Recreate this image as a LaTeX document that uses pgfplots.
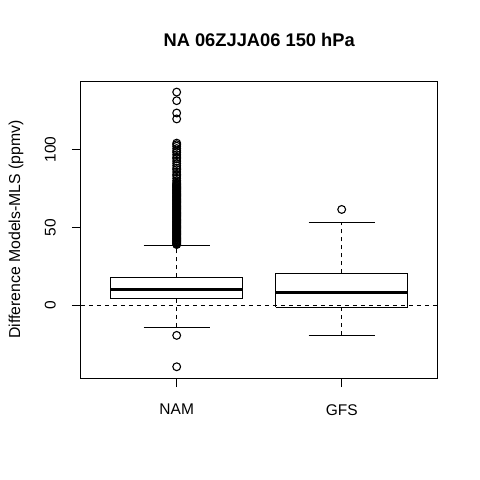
\documentclass[border=0pt]{standalone}
\usepackage{fontspec}
\setmainfont{Liberation Sans}
\usepackage{pgfplots}
\pgfplotsset{compat=1.18}
\begin{document}
\begin{tikzpicture}
\useasboundingbox (-81pt,-102pt) rectangle (399pt,378pt);
\begin{axis}[
  width=356.4pt, height=297pt, scale only axis,
  xmin=0.42, xmax=2.58, ymin=-46.5, ymax=143.8,
  axis line style={black, line width=1pt},
  tick pos=left, tick align=outside, major tick length=9pt,
  tick style={black, line width=1pt},
  xtick={1,2}, xticklabels={NAM,GFS},
  ytick={0,50,100},
  /pgf/number format/assume math mode=true,
  ticklabel style={font=\fontsize{15.5}{18}\selectfont},
  xticklabel style={anchor=north, inner sep=0pt},
  xticklabel shift=17pt,
  yticklabel style={rotate=90, anchor=south, inner sep=0pt},
  yticklabel shift=16pt,
  title={NA 06ZJJA06 150 hPa},
  every axis title/.style={at={(axis description cs:0.5,1.1145)}, anchor=base, font=\bfseries\fontsize{18.3}{21}\selectfont},
  ylabel={Difference Models-MLS (ppmv)},
  every axis y label/.style={at={(axis description cs:-0.171,0.5)}, rotate=90, anchor=base, font=\fontsize{15.8}{18}\selectfont},
  clip=false,
]
% NAM box
\addplot[black, line width=1pt] coordinates {(0.6,4.2)(1.4,4.2)(1.4,17.9)(0.6,17.9)(0.6,4.2)};
\addplot[black, line width=3pt] coordinates {(0.6,10.3)(1.4,10.3)};
\addplot[black, line width=1pt, dash pattern=on 4pt off 4pt] coordinates {(1,17.9)(1,38.6)};
\addplot[black, line width=1pt, dash pattern=on 4pt off 4pt] coordinates {(1,4.2)(1,-14.1)};
\addplot[black, line width=1pt] coordinates {(0.8,38.6)(1.2,38.6)};
\addplot[black, line width=1pt] coordinates {(0.8,-14.1)(1.2,-14.1)};
\addplot[black, only marks, mark=o, mark size=3.9pt, mark options={line width=1.1pt}] coordinates {
(1,-19.2)(1,-39.3)
(1,39)(1,39.5)(1,40)(1,40.5)(1,41)(1,41.5)(1,42)(1,42.5)(1,43)(1,43.5)(1,44)(1,44.5)(1,45)(1,45.5)(1,46)(1,46.5)(1,47)(1,47.5)(1,48)(1,48.5)(1,49)(1,49.5)
(1,50)(1,50.5)(1,51)(1,51.5)(1,52)(1,52.5)(1,53)(1,53.5)(1,54)(1,54.5)(1,55)(1,55.5)(1,56)(1,56.5)(1,57)(1,57.5)(1,58)(1,58.5)(1,59)(1,59.5)
(1,60)(1,60.5)(1,61)(1,61.5)(1,62)(1,62.5)(1,63)(1,63.5)(1,64)(1,64.5)(1,65)(1,65.5)(1,66)(1,66.5)(1,67)(1,67.5)(1,68)(1,68.5)(1,69)(1,69.5)
(1,70)(1,70.5)(1,71)(1,71.5)(1,72)(1,72.5)(1,73)(1,73.5)(1,74)(1,74.5)(1,75)(1,75.5)(1,76)(1,76.5)(1,77)(1,77.5)(1,78)
(1,79)(1,80)(1,81.5)(1,83)(1,84)(1,85.5)(1,87)(1,88)(1,89.5)(1,91)(1,92.5)(1,94)(1,95)(1,96.5)(1,98)(1,99)(1,100.5)(1,102)(1,103)(1,104)
(1,119.5)(1,123.3)(1,131.2)(1,136.7)
};
% GFS box
\addplot[black, line width=1pt] coordinates {(1.6,-1.1)(2.4,-1.1)(2.4,20.5)(1.6,20.5)(1.6,-1.1)};
\addplot[black, line width=3pt] coordinates {(1.6,8.3)(2.4,8.3)};
\addplot[black, line width=1pt, dash pattern=on 4pt off 4pt] coordinates {(2,20.5)(2,53.2)};
\addplot[black, line width=1pt, dash pattern=on 4pt off 4pt] coordinates {(2,-1.1)(2,-19.0)};
\addplot[black, line width=1pt] coordinates {(1.8,53.2)(2.2,53.2)};
\addplot[black, line width=1pt] coordinates {(1.8,-19.0)(2.2,-19.0)};
\addplot[black, only marks, mark=o, mark size=3.9pt, mark options={line width=1.1pt}] coordinates {(2,61.5)};
% zero line
\addplot[black, line width=1pt, dash pattern=on 4pt off 4pt] coordinates {(0.42,0)(2.58,0)};
\end{axis}
\end{tikzpicture}
\end{document}
